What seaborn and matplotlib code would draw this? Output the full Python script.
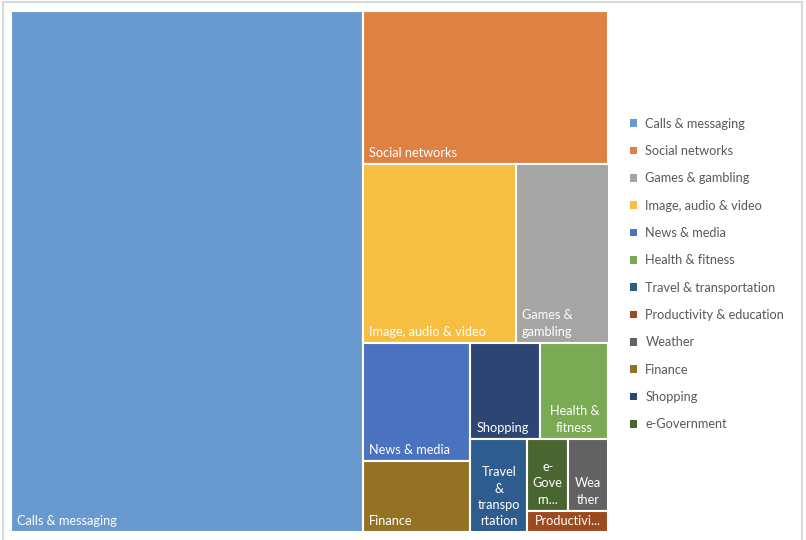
import matplotlib
matplotlib.use('Agg')
from matplotlib import pyplot as plt
from matplotlib.patches import Rectangle, Patch
import seaborn as sns

# App categories in data order (legend order), share of total (%)
categories = ['Calls & messaging', 'Social networks', 'Games & gambling', 'Image, audio & video',
              'News & media', 'Health & fitness', 'Travel & transportation', 'Productivity & education',
              'Weather', 'Finance', 'Shopping', 'e-Government']
shares = [58.9, 12.1, 5.3, 8.75, 4.07, 2.1, 1.71, 0.56, 0.93, 2.45, 2.16, 0.95]
colors = ['#689ad0', '#e08144', '#a5a5a5', '#f7bf41', '#4a72be', '#7baa55',
          '#2f5c8e', '#9c4a1e', '#626262', '#937225', '#2c4572', '#4a6630']

# how each label is written inside its tile (wrapped / truncated like the original)
tile_labels = {
    'Games & gambling': ('Games &\ngambling', 'left'),
    'Health & fitness': ('Health &\nfitness', 'center'),
    'Travel & transportation': ('Travel\n&\ntranspo\nrtation', 'center'),
    'Productivity & education': ('Productivi...', 'center'),
    'Weather': ('Wea\nther', 'center'),
    'e-Government': ('e-\nGove\nrn...', 'center'),
}


def worst(row, side):
    s = sum(row)
    return max(max(side * side * r / (s * s), (s * s) / (side * side * r)) for r in row)


def squarify(areas, x, y, dx, dy):
    rects = []
    rest = list(areas)
    while rest:
        side = min(dx, dy)
        row = [rest[0]]
        i = 1
        while i < len(rest) and worst(row + [rest[i]], side) <= worst(row, side):
            row.append(rest[i])
            i += 1
        s = sum(row)
        if dx >= dy:
            cw = s / dy
            yy = y
            for r in row:
                rects.append((x, yy, cw, r / cw))
                yy += r / cw
            x += cw
            dx -= cw
        else:
            rh = s / dx
            xx = x
            for r in row:
                rects.append((xx, y, r / rh, rh))
                xx += r / rh
            y += rh
            dy -= rh
        rest = rest[i:]
    return rects


sns.set_theme(style='white')
plt.rcParams['font.family'] = ['Lato', 'DejaVu Sans']

FW, FH = 806, 540
fig = plt.figure(figsize=(FW / 100, FH / 100), dpi=100)

# plot area in pixels
px0, py0, pw, ph = 11, 11, 597.5, 521
ax = fig.add_axes([px0 / FW, 1 - (py0 + ph) / FH, pw / FW, ph / FH])
ax.set_xlim(0, pw)
ax.set_ylim(ph, 0)
ax.axis('off')

palette = sns.color_palette(colors)
order = sorted(range(len(categories)), key=lambda k: -shares[k])
total = sum(shares)
areas = [shares[k] / total * pw * ph for k in order]
rects = squarify(areas, 0, 0, pw, ph)

for k, (rx, ry, rw, rh) in zip(order, rects):
    ax.add_patch(Rectangle((rx, ry), rw, rh, facecolor=palette[k], edgecolor='white', linewidth=1.5))
    text, align = tile_labels.get(categories[k], (categories[k], 'left'))
    if align == 'left':
        tx = rx + 6
    else:
        tx = rx + rw / 2
    ax.text(tx, ry + rh - 5, text, ha=align, va='bottom', multialignment='center',
            color='white', fontsize=9.2, linespacing=1.42)

handles = [Patch(facecolor=palette[k], edgecolor='none') for k in range(len(categories))]
fig.legend(handles, categories, loc='center left', bbox_to_anchor=(630 / FW, 1 - 274 / FH),
           frameon=False, fontsize=9.2, labelcolor='#595959', handlelength=0.55, handleheight=0.55,
           handletextpad=0.65, labelspacing=1.2, borderpad=0, borderaxespad=0)

# light chart border
fig.patches.append(Rectangle((2.5 / FW, -0.05), 799.5 / FW, 1.05 - 1.5 / FH, transform=fig.transFigure,
                             facecolor='none', edgecolor='#d9d9d9', linewidth=1.5))

fig.savefig('out.png', dpi=100)
plt.close()
